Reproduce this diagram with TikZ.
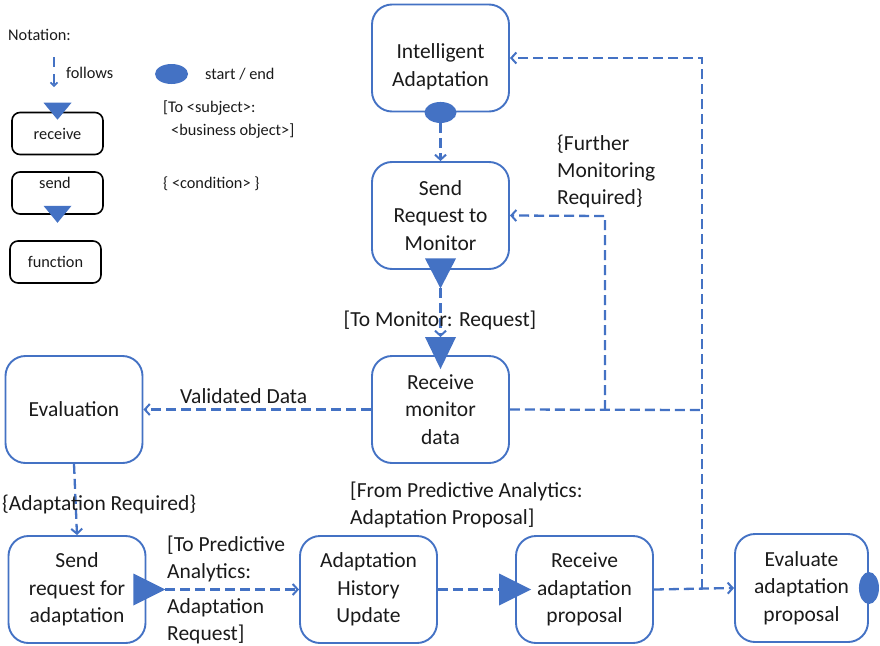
\documentclass[tikz,border=0pt]{standalone}
\usepackage{fontspec}
\setmainfont{Carlito}
\usetikzlibrary{arrows.meta,calc,shapes.geometric}
\definecolor{flowblue}{HTML}{4472C4}
\definecolor{inkgray}{HTML}{1A1A1A}

\tikzset{
  task/.style={draw=flowblue, line width=1.9pt, rounded corners=20pt,
    minimum width=137pt, minimum height=107pt, align=center, inner sep=0pt,
    text=inkgray, font=\fontsize{21.5}{27.5}\selectfont},
  legendbox/.style={draw=black, line width=1.6pt, rounded corners=8pt,
    minimum width=91pt, minimum height=42pt, inner sep=0pt,
    text=inkgray, font=\fontsize{16.3}{19}\selectfont},
  flowline/.style={draw=flowblue, line width=2.3pt, dash pattern=on 10pt off 5pt},
  flow/.style={flowline, -{Straight Barb[length=5pt,width=11pt,line width=2pt]}},
  lbl/.style={font=\fontsize{21.5}{27}\selectfont, inner sep=0pt, align=left,
    anchor=west, text=inkgray},
  legendtxt/.style={font=\fontsize{16.3}{23}\selectfont, inner sep=0pt,
    anchor=west, align=left, text=inkgray},
  event/.style={ellipse, fill=flowblue, inner sep=0pt},
  msg/.style={fill=flowblue}
}

\begin{document}
\begin{tikzpicture}[x=1pt,y=-1pt]
\useasboundingbox (0,0) rectangle (880,645);

% ---------- notation ----------
\node[legendtxt] (notation) at (8,35) {Notation:};
\coordinate (fa) at (54,57);
\coordinate (fb) at (54,87);
\draw[flowline, dash pattern=on 10pt off 7pt,
  -{Straight Barb[length=3.5pt,width=7pt,line width=1.6pt]}] (fa) -- (fb);
\node[legendtxt] (follows) at (66,73) {follows};
\node[event, minimum width=33pt, minimum height=20pt] (lgevent) at (171.5,74) {};
\node[legendtxt] (startend) at (205,74) {start / end};

\node[legendbox] (lgrecv) at (57.5,133.5) {receive};
\fill[msg] ($(lgrecv.north)+(-14,-9)$) -- ($(lgrecv.north)+(14,-9)$)
  -- ($(lgrecv.north)+(0,8)$) -- cycle;

\node[legendbox] (lgsend) at (57.5,193) {};
\node[legendtxt, anchor=center] (lgsendtxt) at (55,183) {send};
\fill[msg] ($(lgsend.south)+(-14,-9)$) -- ($(lgsend.south)+(14,-9)$)
  -- ($(lgsend.south)+(0,8)$) -- cycle;

\node[legendbox] (lgfunc) at (55.5,262) {function};

\node[legendtxt, anchor=base west] (lgmsg) at (163,135)
  {[To <subject>:\\\hspace*{8pt}<business object>]};
\node[legendtxt, anchor=base west] (lgcond) at (163,188) {\{ <condition> \}};

% ---------- process ----------
\node[task] (ia) at (440.5,58) {};
\node[task, draw=none] (iatext) at (440.5,67) {Intelligent\\Adaptation};
\node[event, minimum width=32pt, minimum height=21pt] (iaend) at (ia.south) {};

\node[task] (srm) at (440.5,215.5) {Send\\Request to\\Monitor};
\fill[msg] ($(srm.south)+(-15.5,-11.5)$) -- ($(srm.south)+(15.5,-11.5)$)
  -- ($(srm.south)+(0,18.5)$) -- cycle;
\coordinate (srmout) at ($(srm.south)+(0,18.5)$);

\node[task] (rmd) at (440.5,409.5) {Receive\\monitor\\data};
\coordinate (rmdin) at ($(rmd.north)+(0,-18)$);
\fill[msg] ($(rmdin)+(-15.5,0)$) -- ($(rmdin)+(15.5,0)$)
  -- ($(rmd.north)+(0,14)$) -- cycle;

\node[task] (eval) at (74,409.5) {Evaluation};

\node[task] (sra) at (77,589.5) {Send\\request for\\adaptation};
\fill[msg] ($(sra.east)+(-13,-16)$) -- ($(sra.east)+(-13,16)$)
  -- ($(sra.east)+(19,0)$) -- cycle;
\coordinate (sraout) at ($(sra.east)+(19,0)$);

\node[task] (ahu) at (368.5,589.5) {Adaptation\\History\\Update};

\node[task] (rap) at (584.5,589.5) {Receive\\adaptation\\proposal};
\coordinate (rapin) at ($(rap.west)+(-16,0)$);
\fill[msg] ($(rapin)+(0,-16)$) -- ($(rapin)+(0,16)$)
  -- ($(rap.west)+(16,0)$) -- cycle;

\node[task, minimum width=133pt, minimum height=108pt] (eap) at (801.5,588)
  {Evaluate\\adaptation\\proposal};
\node[event, minimum width=20pt, minimum height=32pt] (eapend) at (eap.east) {};

% ---------- connectors ----------
\coordinate (fmfork) at (605,410);
\coordinate (fmturn) at (605,216);
\coordinate (loopmid) at (702,410);
\coordinate (loopbot) at (702,589);
\coordinate (looptop) at (702,58);

\draw[flow] (iaend.south) -- (srm.north);
\draw[flow] (srmout) -- (rmdin);
\draw[flow] (rmd.west) -- (eval.east);
\draw[flowline] (rmd.east) -- (loopmid);
\draw[flow] (fmfork) -- (fmturn) -- (srm.east);
\draw[flow] (eval.south) -- (sra.north);
\draw[flow] (sraout) -- (ahu.west);
\draw[flowline] (ahu.east) -- (rapin);
\draw[flow] (rap.east) -- (eap.west);
\draw[flow] (loopbot) -- (looptop) -- (ia.east);

% ---------- labels ----------
\node[lbl, anchor=center] (lbtomon) at (440,320) {[To Monitor: Request]};
\node[lbl] (lbfurther) at (557,171) {\{Further\\Monitoring\\Required\}};
\node[lbl] (lbvalid) at (180,396) {Validated Data};
\node[lbl] (lbadreq) at (2,504) {\{Adaptation Required\}};
\node[lbl] (lbtopa) at (167,590) {[To Predictive\\Analytics:\\[8pt]Adaptation\\Request]};
\node[lbl] (lbfrompa) at (350,505) {[From Predictive Analytics:\\Adaptation Proposal]};

\end{tikzpicture}
\end{document}
